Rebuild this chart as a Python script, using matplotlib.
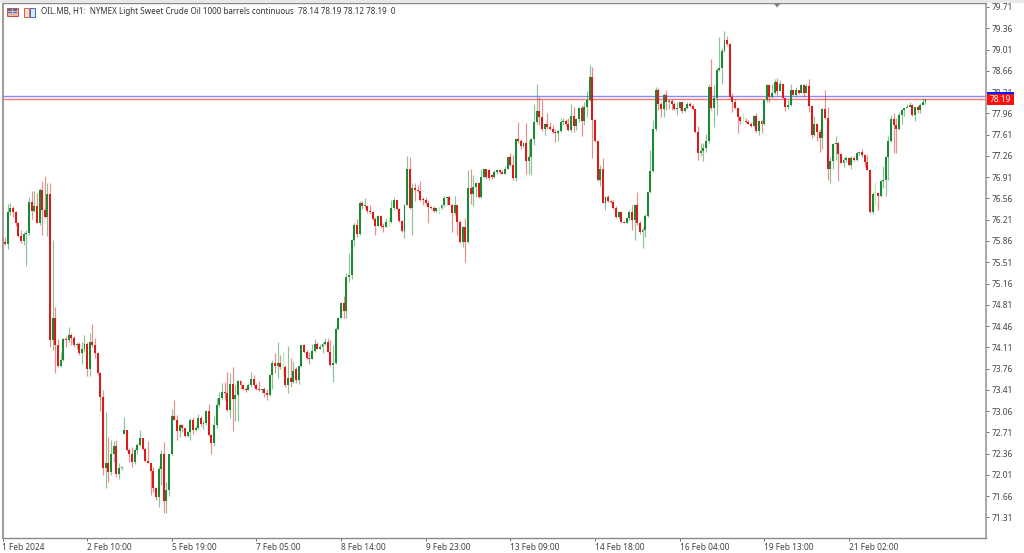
import matplotlib
matplotlib.use("Agg")
import matplotlib.pyplot as plt
from matplotlib.patches import Rectangle, Polygon

plt.rcParams['font.family'] = ['Noto Sans', 'DejaVu Sans']

closes = [
75.85,75.81,76.34,76.41,76.34,76.15,75.94,75.86,75.97,75.99,
76.50,76.36,76.43,76.16,76.70,76.37,76.25,76.63,74.23,74.59,
74.15,73.81,73.90,74.25,74.23,74.31,74.27,74.15,74.16,74.01,
74.09,74.16,73.75,74.19,74.15,74.01,73.68,73.30,72.13,72.20,
72.06,72.35,72.48,72.03,72.13,72.14,72.75,72.42,72.35,72.23,
72.42,72.51,72.61,72.43,72.24,72.21,72.08,71.80,71.65,72.10,
72.35,71.58,71.77,72.35,72.98,72.92,72.74,72.83,72.79,72.65,
72.72,72.91,72.75,72.79,72.94,72.84,72.86,73.06,72.67,72.53,
72.83,73.16,73.27,73.38,73.35,73.08,73.51,73.26,73.33,73.55,
73.49,73.42,73.41,73.49,73.59,73.49,73.42,73.40,73.42,73.35,
73.32,73.66,73.86,73.81,73.86,73.79,73.79,73.49,73.60,73.54,
73.72,73.57,73.81,74.14,74.04,73.93,73.92,74.05,74.16,74.09,
74.12,74.16,74.19,74.04,73.82,73.86,74.41,74.60,74.84,74.70,
75.26,75.30,75.87,76.12,75.98,76.49,76.43,76.44,76.35,76.34,
76.22,76.11,76.27,76.10,76.09,76.18,76.18,76.41,76.53,76.38,
76.19,76.02,76.46,77.04,76.41,76.73,76.70,76.69,76.54,76.53,
76.49,76.42,76.41,76.35,76.40,76.40,76.45,76.56,76.58,76.46,
76.32,76.45,76.18,75.85,76.09,75.85,76.73,76.63,76.74,76.82,
76.58,76.91,77.04,76.91,76.90,76.91,76.99,77.02,76.99,76.97,
77.05,77.24,77.11,76.89,77.53,77.50,77.42,77.47,77.18,77.24,
77.53,77.82,78.00,77.90,77.71,77.78,77.74,77.71,77.65,77.64,
77.67,77.82,77.84,77.78,77.69,77.92,77.76,77.86,78.04,77.84,
78.07,78.18,78.55,77.85,77.50,76.86,77.04,76.49,76.59,76.52,
76.50,76.41,76.25,76.34,76.18,76.16,76.23,76.34,76.20,76.45,
76.15,76.01,76.04,76.27,76.66,77.01,77.71,78.34,78.12,78.03,
78.27,78.15,78.17,78.12,78.03,78.04,78.14,78.00,78.05,78.12,
78.08,78.03,77.66,77.31,77.34,77.39,77.50,78.39,78.05,78.21,
78.67,78.70,78.99,79.17,79.10,78.23,78.14,78.04,77.90,77.84,
77.84,77.82,77.79,77.75,77.92,77.67,77.84,77.78,78.18,78.43,
78.23,78.30,78.48,78.33,78.45,78.22,78.07,78.10,78.34,78.27,
78.34,78.30,78.43,78.29,78.41,78.08,77.60,77.78,77.66,77.55,
78.03,77.88,77.05,77.18,77.45,77.47,77.29,77.15,77.19,77.22,
77.11,77.23,77.19,77.31,77.32,77.27,77.16,77.03,76.33,76.64,
76.64,76.60,76.85,76.87,77.24,77.50,77.87,77.77,77.71,77.94,
78.02,78.04,78.07,78.10,77.93,78.06,78.02,78.10,78.14,78.19]

highs = [
75.91,75.93,76.47,76.48,76.43,76.36,76.18,76.04,76.00,76.04,
76.58,76.69,76.69,76.65,76.73,76.85,76.93,76.82,76.82,75.87,
74.78,74.24,74.04,74.26,74.30,74.45,74.35,74.29,74.19,74.20,
74.19,74.32,74.19,74.34,74.50,74.26,74.04,73.71,73.41,73.04,
72.64,72.58,72.57,72.59,72.20,72.15,72.96,72.75,72.46,72.47,
72.45,72.53,72.75,72.61,72.45,72.57,72.21,72.14,71.81,72.15,
72.42,72.56,71.90,72.36,73.09,73.25,72.99,72.85,72.84,72.74,
72.74,72.94,72.96,72.83,73.01,72.98,72.89,73.08,73.18,72.69,
72.98,73.27,73.38,73.52,73.54,73.71,73.69,73.79,73.49,73.57,
73.58,73.51,73.46,73.52,73.71,73.65,73.53,73.56,73.43,73.46,
73.43,73.67,73.90,74.01,74.19,73.98,74.04,73.82,74.13,73.93,
73.88,73.79,73.82,74.15,74.16,74.06,74.04,74.16,74.25,74.19,
74.17,74.20,74.26,74.26,74.23,74.15,74.44,74.61,74.86,74.95,
75.33,75.67,75.90,76.15,76.22,76.51,76.51,76.57,76.45,76.45,
76.36,76.26,76.29,76.29,76.15,76.23,76.25,76.54,76.58,76.54,
76.40,76.20,76.47,77.26,77.24,76.81,76.82,76.78,76.85,76.59,
76.58,76.53,76.43,76.43,76.41,76.42,76.47,76.60,76.59,76.60,
76.47,76.60,76.45,76.20,76.10,76.23,77.02,77.05,76.94,76.83,
76.83,77.05,77.05,77.05,77.04,76.96,77.03,77.05,77.05,77.02,
77.09,77.26,77.30,77.27,77.55,77.81,77.53,77.49,77.80,77.52,
77.55,78.11,78.45,78.23,78.18,77.80,77.96,77.82,77.77,77.70,
77.70,77.89,77.88,77.86,77.88,78.12,78.07,77.88,78.07,78.10,
78.15,78.33,78.76,78.72,77.86,77.49,77.11,77.22,76.60,76.61,
76.53,76.53,76.44,76.36,76.35,76.19,76.25,76.37,76.46,76.47,
76.67,76.19,76.09,76.31,76.67,77.36,77.85,78.39,78.37,78.15,
78.29,78.35,78.19,78.19,78.15,78.15,78.15,78.14,78.07,78.15,
78.15,78.11,78.04,77.75,77.48,77.48,77.62,78.44,78.85,78.43,
78.70,79.21,79.03,79.32,79.23,79.11,78.29,78.20,78.05,77.92,
77.96,77.88,77.85,77.82,77.94,77.96,77.85,77.85,78.20,78.44,
78.44,78.45,78.52,78.54,78.51,78.45,78.22,78.18,78.44,78.35,
78.40,78.35,78.44,78.45,78.45,78.52,78.10,77.92,77.80,77.71,
78.04,78.34,78.06,77.24,77.48,77.58,77.49,77.30,77.24,77.25,
77.24,77.25,77.26,77.33,77.33,77.37,77.29,77.27,77.04,76.66,
76.83,76.67,76.86,77.09,77.25,77.58,77.94,77.96,77.88,77.99,
78.03,78.05,78.12,78.15,78.11,78.07,78.10,78.13,78.21,78.19]

lows = [
75.83,75.79,75.72,76.29,76.26,76.10,75.93,75.83,75.79,75.44,
75.96,76.22,76.33,76.15,76.13,75.96,76.23,75.94,74.12,74.06,
73.68,73.78,73.79,73.89,74.12,74.20,74.15,74.12,74.09,73.99,
73.83,74.04,73.63,73.64,74.12,73.94,73.65,73.07,72.01,71.79,
71.90,72.01,72.23,71.98,71.95,72.09,72.69,72.41,72.23,72.14,
72.19,72.35,72.48,72.42,72.23,72.20,71.68,71.73,71.60,71.49,
71.84,71.39,71.39,71.67,72.34,72.91,72.59,72.63,72.72,72.63,
72.64,72.58,72.68,72.74,72.77,72.81,72.77,72.83,72.65,72.35,
72.49,72.79,73.12,73.26,73.25,73.07,72.94,72.73,72.90,72.90,
73.43,73.41,73.38,73.41,73.45,73.45,73.41,73.39,73.35,73.29,
73.24,73.31,73.43,73.68,73.61,73.76,73.63,73.46,73.35,73.46,
73.53,73.53,73.50,73.79,74.01,73.91,73.83,73.91,74.03,74.08,
74.08,74.02,74.15,74.03,73.81,73.54,73.83,74.39,74.59,74.59,
74.60,75.19,75.23,75.77,75.93,75.96,76.38,76.40,76.32,76.30,
76.21,75.96,76.10,76.08,76.01,76.09,76.10,76.16,76.37,76.37,
76.18,76.01,75.91,76.45,76.39,75.95,76.51,76.67,76.52,76.45,
76.46,76.16,76.39,76.34,76.34,76.31,76.38,76.42,76.45,76.45,
76.00,76.29,75.96,75.83,75.76,75.52,75.82,76.47,76.43,76.58,
76.56,76.56,76.89,76.88,76.87,76.88,76.89,76.96,76.97,76.96,
76.96,77.04,77.09,76.87,76.85,77.47,77.38,77.41,76.97,76.96,
76.94,77.44,77.78,77.77,77.67,77.60,77.71,77.69,77.63,77.49,
77.50,77.66,77.77,77.76,77.67,77.66,77.66,77.69,77.82,77.59,
77.77,77.90,78.17,77.22,77.49,76.85,76.76,76.48,76.37,76.50,
76.49,76.38,76.23,76.22,76.16,76.15,76.15,76.20,76.04,75.87,
76.12,75.98,75.75,75.93,76.26,76.65,77.00,77.67,78.01,77.90,
77.90,78.01,78.03,78.01,78.01,77.93,78.01,77.97,77.99,78.03,
78.07,78.01,77.64,77.20,77.25,77.18,77.33,77.48,78.01,77.74,
77.94,78.65,78.44,78.97,79.07,78.22,77.99,78.03,77.64,77.78,
77.83,77.80,77.78,77.74,77.74,77.66,77.60,77.64,77.77,78.15,
78.15,78.22,78.28,78.27,78.32,78.21,78.00,78.03,78.08,78.26,
78.23,78.28,78.29,78.23,78.29,77.99,77.55,77.58,77.51,77.33,
77.37,77.86,76.86,76.81,77.05,77.19,76.85,77.14,77.08,77.16,
77.09,77.05,77.18,77.18,77.27,77.24,77.07,77.02,76.32,76.30,
76.45,76.37,76.59,76.73,76.60,76.86,77.49,77.31,77.31,77.69,
77.78,77.92,78.06,78.06,77.92,77.84,77.96,77.96,78.10,78.12]

first_open = 75.90
open_gaps = {46: 72.69, 111: 73.76, 184: 77.02, 185: 76.95, 331: 76.65}
opens = [first_open] + closes[:-1]
for k, v in open_gaps.items():
    opens[k] = v

price_ticks = [79.71,79.36,79.01,78.66,78.31,77.96,77.61,77.26,76.91,76.56,76.21,75.86,
               75.51,75.16,74.81,74.46,74.11,73.76,73.41,73.06,72.71,72.36,72.01,71.66,71.31]
date_pos = [0, 32, 64, 96, 128, 160, 192, 224, 256, 288, 320]
date_labels = ['1 Feb 2024','2 Feb 10:00','5 Feb 19:00','7 Feb 05:00','8 Feb 14:00','9 Feb 23:00',
               '13 Feb 09:00','14 Feb 18:00','16 Feb 04:00','19 Feb 13:00','21 Feb 02:00']
ask, bid = 78.24, 78.19
title = 'OIL.MB, H1:  NYMEX Light Sweet Crude Oil 1000 barrels continuous  78.14 78.19 78.12 78.19  0'

W, H = 1024, 553
L, R, T, B = 2.5, 986, 3, 538
fig = plt.figure(figsize=(W/100, H/100), dpi=100, facecolor='white')
ax = fig.add_axes([L/W, 1-B/H, (R-L)/W, (B-T)/H])
ax.set_xlim((L-2)/2.646, (R-2)/2.646)
ax.set_ylim(79.71-(B-7)/60.77, 79.71+(7-T)/60.77)

RED, GREEN, LIME = '#dc1a1a', '#1a8a32', '#55f055'
ax.axhline(ask, color='#8a8aff', lw=1.0, zorder=1)
ax.axhline(bid, color='#ff7878', lw=1.0, zorder=1)
for i, (o, h, l, c) in enumerate(zip(opens, highs, lows, closes)):
    col = LIME if c == o else (GREEN if c > o else RED)
    ax.vlines(i, l, h, color=col, lw=0.85, alpha=0.5, zorder=2)
    if c != o:
        ax.bar(i, max(abs(c-o), 0.015), bottom=min(o, c), width=0.74, color=col, lw=0, zorder=3)

for s in ('top', 'right', 'left', 'bottom'):
    ax.spines[s].set_color('#8a8a8a')
ax.spines['right'].set_linewidth(1.4)
ax.spines['right'].set_color('#a8a8a8')
ax.spines['left'].set_linewidth(1.2)
ax.spines['bottom'].set_linewidth(1.0)
ax.spines['top'].set_linewidth(1.0)

ax.yaxis.tick_right()
ax.set_yticks(price_ticks)
ax.set_yticklabels([f'{p:.2f}' for p in price_ticks])
ax.tick_params(axis='y', length=2.5, width=0.6, color='#555555', pad=1.5, labelsize=6.0, labelcolor='#444444')
ax.set_xticks(date_pos)
ax.set_xticklabels(date_labels, ha='left')
ax.tick_params(axis='x', length=2, width=0.6, color='#555555', pad=1.8, labelsize=6.0, labelcolor='#444444')

# price tags on the right-hand scale
trans = ax.get_yaxis_transform()
ax.add_patch(Rectangle((1.0015, ask-0.03), 0.0265, 0.10, transform=trans, color='#1414ff', clip_on=False, zorder=6, lw=0))
ax.add_patch(Rectangle((1.0015, bid-0.095), 0.0265, 0.19, transform=trans, color='#ff1010', clip_on=False, zorder=7, lw=0))
ax.text(1.0035, bid, f'{bid:.2f}', transform=trans, color='white', fontsize=6.0, va='center', ha='left', zorder=8, clip_on=False)

fig.text(41/W, 1-11/H, title, fontsize=5.8, color='#333333', va='center', ha='left')

# header icons and top marker
def px_rect(x, y, w, h, **kw):
    fig.add_artist(Rectangle((x/W, 1-(y+h)/H), w/W, h/H, transform=fig.transFigure, **kw))
px_rect(6.5, 8, 11, 8, facecolor='#f4b6a8', edgecolor='#c0504d', lw=0.7)
px_rect(7.5, 9.5, 4, 1.2, facecolor='#3a6fc0', lw=0)
px_rect(12.5, 9.5, 4, 1.2, facecolor='#3a6fc0', lw=0)
px_rect(7.5, 12, 4, 1.2, facecolor='#3a6fc0', lw=0)
px_rect(12.5, 12, 4, 1.2, facecolor='#3a6fc0', lw=0)
px_rect(24, 8, 5, 9, facecolor='#fbdcd6', edgecolor='#d8604f', lw=0.7)
px_rect(29.5, 8, 5, 9, facecolor='#dbe7f7', edgecolor='#3a6fc0', lw=0.7)
fig.add_artist(Polygon([(773.5/W, 1-3/H), (781/W, 1-3/H), (777/W, 1-7.5/H)], closed=True,
                       transform=fig.transFigure, facecolor='#808080', lw=0))
px_rect(0, 0, 1024, 2.5, facecolor='#e8e8e8', lw=0)

fig.savefig('out.png', dpi=100)
